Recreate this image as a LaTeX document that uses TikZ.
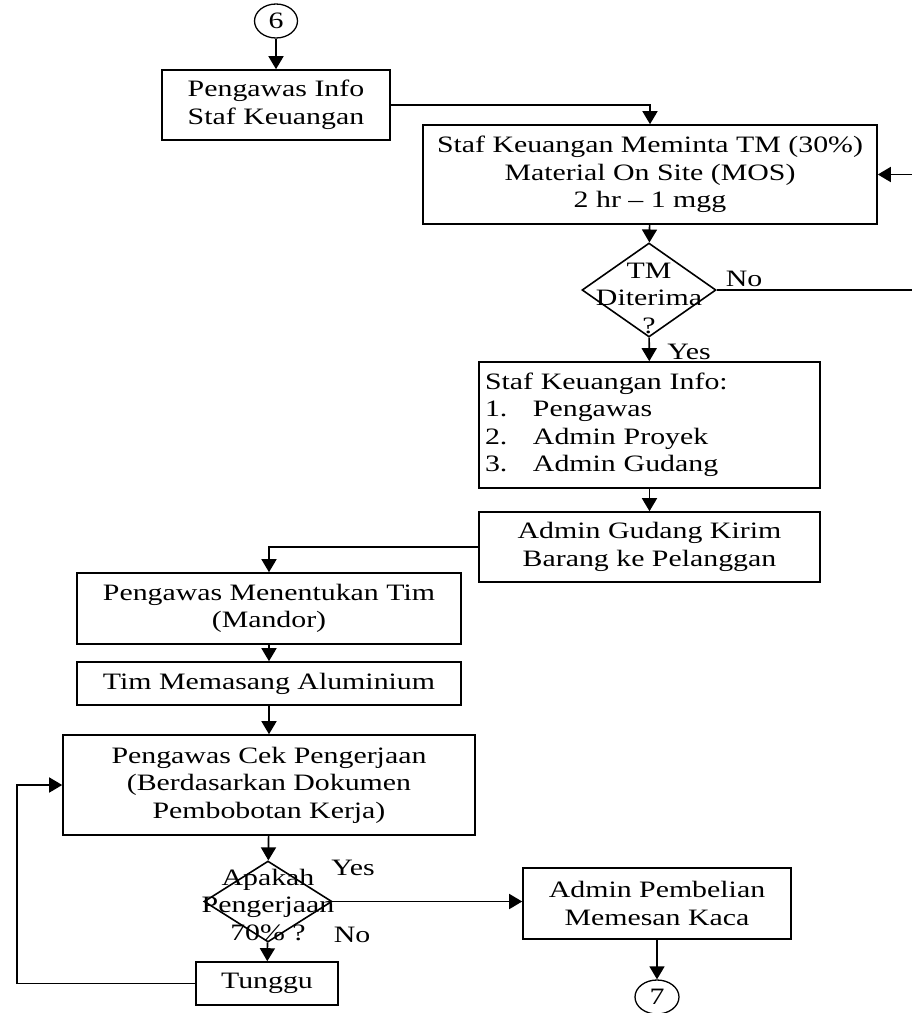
\documentclass[tikz,border=0pt]{standalone}
\usepackage{fontspec}
\setmainfont{Liberation Serif}[FakeStretch=1.27]
\usetikzlibrary{arrows.meta,shapes.geometric}
\newcommand{\flowfont}{\fontsize{23.5}{27.5}\selectfont}
\begin{document}
\begin{tikzpicture}[x=1pt,y=-1pt,
  box/.style={draw, line width=1.6pt, inner sep=0pt, align=center, font=\flowfont},
  decision/.style={draw, diamond, line width=1.6pt, inner sep=0pt},
  connector/.style={draw, ellipse, line width=1.3pt, inner sep=0pt, font=\flowfont},
  txt/.style={inner sep=0pt, align=center, font=\flowfont},
  flow/.style={line width=1.6pt, -{Triangle[length=13pt,width=15pt]}},
  plain/.style={line width=1.6pt}]
\useasboundingbox (0,0) rectangle (912,1013);

% connectors and process boxes
\node[connector, minimum width=43, minimum height=34] (c6) at (276,21) {6};
\node[box, minimum width=228, minimum height=70] (b1) at (276,105) {Pengawas Info\\Staf Keuangan};
\node[box, minimum width=454, minimum height=99] (b2) at (650,174.5)
  {Staf Keuangan Meminta TM (30\%)\\Material On Site (MOS)\\2 hr -- 1 mgg};
\node[decision, minimum width=134, minimum height=94] (d1) at (649,290) {};
\node[txt] (d1t) at (649,298) {TM\\Diterima\\?};
\node[box, minimum width=341, minimum height=126, text width=329, align=left] (b3) at (649.5,425)
  {Staf Keuangan Info:\\
   \makebox[48pt][l]{1.}Pengawas\\
   \makebox[48pt][l]{2.}Admin Proyek\\
   \makebox[48pt][l]{3.}Admin Gudang};
\node[box, minimum width=341, minimum height=70] (b4) at (649.5,547) {Admin Gudang Kirim\\Barang ke Pelanggan};
\node[box, minimum width=384, minimum height=71] (b5) at (269,608.5) {Pengawas Menentukan Tim\\(Mandor)};
\node[box, minimum width=384, minimum height=43] (b6) at (269,683.5) {Tim Memasang Aluminium};
\node[box, minimum width=412, minimum height=100] (b7) at (269,785)
  {Pengawas Cek Pengerjaan\\(Berdasarkan Dokumen\\Pembobotan Kerja)};
\node[decision, minimum width=128, minimum height=81] (d2) at (268,901.5) {};
\node[txt] (d2t) at (268,905) {Apakah\\Pengerjaan\\70\% ?};
\node[box, minimum width=142, minimum height=43] (b9) at (267,983.5) {Tunggu};
\node[box, minimum width=268, minimum height=71] (b8) at (657,903.5) {Admin Pembelian\\Memesan Kaca};
\node[connector, minimum width=44, minimum height=34] (c7) at (657,997) {7};

% branch labels
\node[txt] (lno1) at (744,279) {No};
\node[txt] (lyes1) at (689,352) {Yes};
\node[txt] (lyes2) at (353,868) {Yes};
\node[txt] (lno2) at (352,935) {No};

% turning points of the routed lines
\coordinate (r1) at (915,290);
\coordinate (l1) at (17,983.5);

% flow lines
\draw[flow] (c6) -- (b1);
\draw[flow] (b1.east) -| (b2.north);
\draw[flow] (b2) -- (d1);
\draw[flow] (d1.east) -- (r1) |- (b2.east);
\draw[flow] (d1) -- (b3);
\draw[flow] (b3) -- (b4);
\draw[flow] (b4.west) -| (b5.north);
\draw[flow] (b5) -- (b6);
\draw[flow] (b6) -- (b7);
\draw[flow] (b7) -- (d2);
\draw[flow] (d2) -- (b9);
\draw[flow] (d2.east) -- (d2.east -| b8.west);
\draw[flow] (b8) -- (c7);
\draw[flow] (b9.west) -- (l1) |- (b7.west);
\end{tikzpicture}
\end{document}
